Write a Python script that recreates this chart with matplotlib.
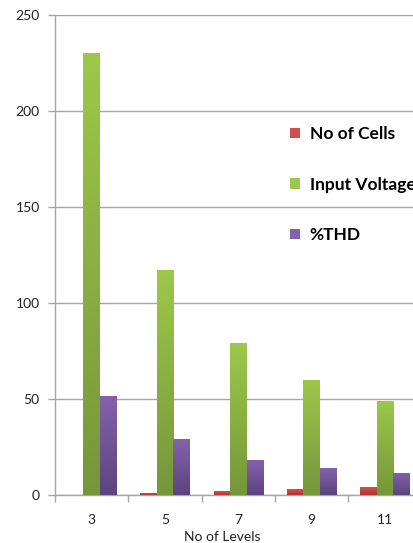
import numpy as np
import matplotlib.pyplot as plt
from matplotlib.colors import LinearSegmentedColormap

levels = ['3', '5', '7', '9', '11']
no_of_cells = [0, 1, 2, 3, 4]
input_voltage = [230, 117, 79, 60, 49]
thd = [51.5, 29, 18, 14, 11.5]

plt.rcParams['font.family'] = ['Lato', 'DejaVu Sans']

fig = plt.figure(figsize=(4.14, 5.43), dpi=100)
ax = fig.add_axes([55 / 414, 48 / 543, 366.7 / 414, 480 / 543])

x = np.arange(len(levels))
w = 0.225
series = [
    ('No of Cells', no_of_cells, -w, '#d0504d', '#a83532'),
    ('Input Voltage', input_voltage, 0, '#9dc84a', '#76963a'),
    ('%THD', thd, w, '#8462aa', '#5c4480'),
]

grad = np.linspace(0, 1, 256).reshape(-1, 1)
for name, vals, off, top, bot in series:
    bars = ax.bar(x + off, vals, w, color=top, label=name, zorder=2)
    cmap = LinearSegmentedColormap.from_list(name, [bot, top])
    for b in bars:
        h = b.get_height()
        if h <= 0:
            continue
        x0 = b.get_x()
        im = ax.imshow(grad, cmap=cmap, origin='lower', aspect='auto',
                       extent=[x0, x0 + b.get_width(), 0, h], zorder=3)
        im.set_clip_path(b)

ax.set_xlim(-0.5, len(levels) - 0.5)
ax.set_ylim(0, 250)
ax.set_yticks(range(0, 251, 50))
ax.set_xticks(x)
ax.set_xticklabels(levels)
ax.set_xticks(np.arange(-0.5, len(levels)), minor=True)

ax.grid(axis='y', color='#a6a6a6', linewidth=1, zorder=0)
ax.set_axisbelow(True)
for s in ['top', 'right']:
    ax.spines[s].set_visible(False)
for s in ['left', 'bottom']:
    ax.spines[s].set_color('#a6a6a6')
    ax.spines[s].set_linewidth(1)

ax.tick_params(axis='x', which='major', length=0, pad=14, labelsize=10, colors='#222222')
ax.tick_params(axis='x', which='minor', length=5, color='#a6a6a6', width=1)
ax.tick_params(axis='y', length=5, color='#a6a6a6', width=1, labelsize=10,
               labelcolor='#222222', pad=6)

ax.set_xlabel('No of Levels', fontsize=10, color='#222222')
ax.xaxis.set_label_coords(0.455, -0.076)

ax.legend(loc='upper left', bbox_to_anchor=(0.642, 0.768), frameon=False,
          prop={'weight': 'bold', 'size': 12.5}, handlelength=0.55,
          handleheight=0.55, handletextpad=0.55, labelspacing=1.98,
          borderaxespad=0, borderpad=0)

fig.savefig('out.png', dpi=100)
